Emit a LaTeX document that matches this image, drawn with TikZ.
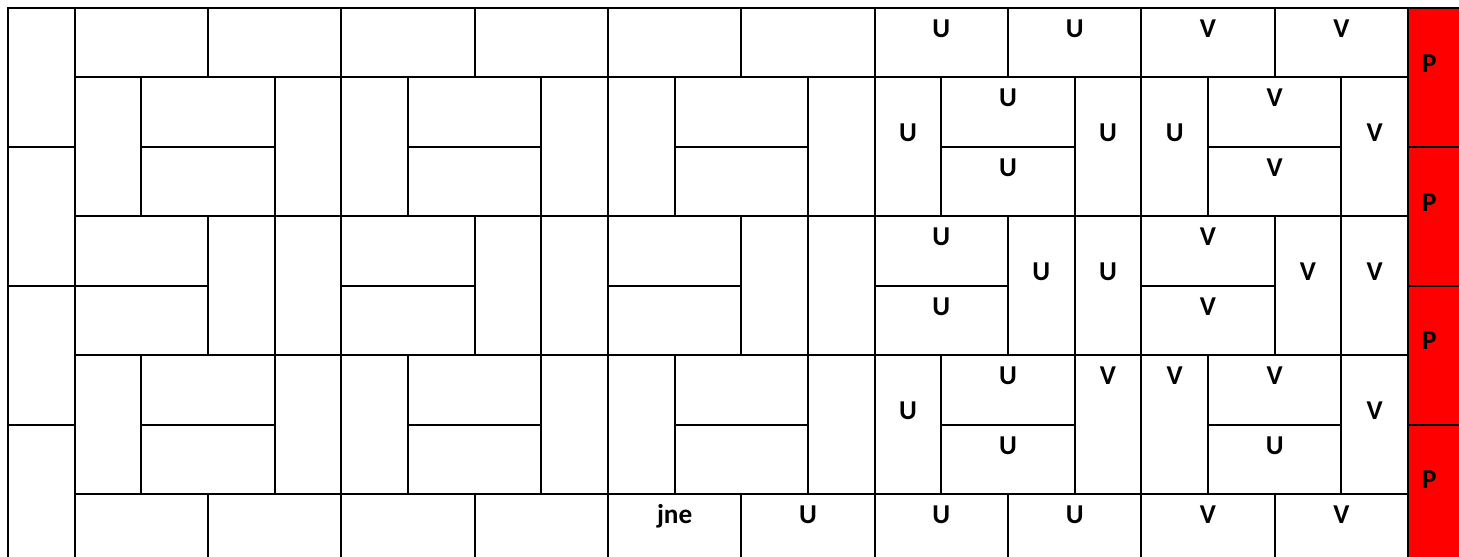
\documentclass[tikz,border=0pt]{standalone}
\usepackage{fontspec}
\setmainfont{Carlito}
\usepackage{tikz}
\definecolor{flag}{RGB}{255,0,0}
\definecolor{ink}{RGB}{0,0,0}
\tikzset{
  brick/.style={draw=ink,line width=1.1pt},
  strip/.style={brick,fill=flag},
  letter/.style={font=\fontsize{15.5}{18}\selectfont\bfseries,text=ink,
    anchor=base,yshift=-4.9pt,inner sep=0pt},
}

\begin{document}
\begin{tikzpicture}[x=1.33333cm,y=-1.3886cm]
  \useasboundingbox (-0.12,-0.1152) rectangle (21.765,7.907);
  \clip (-0.12,-0.1152) rectangle (21.765,7.907);
  % red strip on the right
  \foreach \r in {0,2,4,6} \draw[strip] (21,\r) rectangle ++(1,2);
  % left column
  \foreach \r in {0,2,4,6} \draw[brick] (0,\r) rectangle ++(1,2);
  % top and bottom rows
  \foreach \c in {1,3,...,19} {
    \draw[brick] (\c,0) rectangle ++(2,1);
    \draw[brick] (\c,7) rectangle ++(2,1);
  }
  % woven blocks
  \foreach \b in {1,5,...,17} {
    \foreach \r in {1,5} {
      \draw[brick] (\b,\r) rectangle ++(1,2);
      \draw[brick] (\b+1,\r) rectangle ++(2,1);
      \draw[brick] (\b+1,\r+1) rectangle ++(2,1);
      \draw[brick] (\b+3,\r) rectangle ++(1,2);
    }
    \draw[brick] (\b,3) rectangle ++(2,1);
    \draw[brick] (\b,4) rectangle ++(2,1);
    \draw[brick] (\b+2,3) rectangle ++(1,2);
    \draw[brick] (\b+3,3) rectangle ++(1,2);
  }
  % letters
  \foreach \x/\y/\t [count=\i] in {14/0.3/U,16/0.3/U,18/0.3/V,20/0.3/V,
      13.5/1.8/U,15/1.3/U,15/2.3/U,16.5/1.8/U,17.5/1.8/U,19/1.3/V,19/2.3/V,20.5/1.8/V,
      14/3.3/U,14/4.3/U,15.5/3.8/U,16.5/3.8/U,18/3.3/V,18/4.3/V,19.5/3.8/V,20.5/3.8/V,
      13.5/5.8/U,15/5.3/U,15/6.3/U,16.5/5.3/V,17.5/5.3/V,19/5.3/V,19/6.3/U,20.5/5.8/V,
      10/7.3/jne,12/7.3/U,14/7.3/U,16/7.3/U,18/7.3/V,20/7.3/V,
      21.32/0.8/P,21.32/2.8/P,21.32/4.8/P,21.32/6.8/P}
    \node[letter] (t\i) at (\x,\y) {\t};
\end{tikzpicture}
\end{document}
